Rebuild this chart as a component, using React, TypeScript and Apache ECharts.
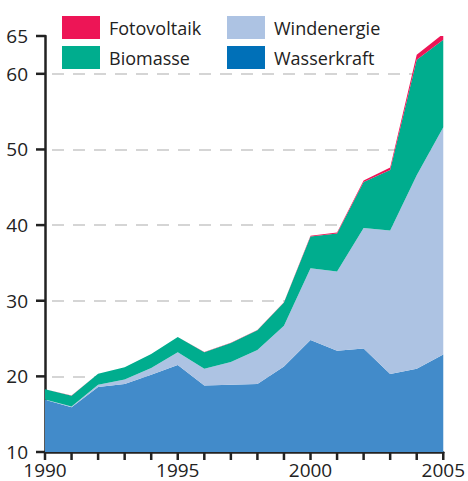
import React, { useEffect, useRef } from "react";
import * as echarts from "echarts";

const years = ["1990","1991","1992","1993","1994","1995","1996","1997","1998","1999","2000","2001","2002","2003","2004","2005"];
const wasserkraft = [16.9, 15.9, 18.6, 19.0, 20.2, 21.5, 18.8, 18.9, 19.0, 21.3, 24.8, 23.4, 23.7, 20.3, 21.0, 22.9];
const windenergie = [0.05, 0.1, 0.3, 0.6, 0.9, 1.7, 2.2, 3.0, 4.5, 5.4, 9.5, 10.45, 15.9, 19.0, 25.6, 30.05];
const biomasse = [1.35, 1.45, 1.45, 1.6, 1.85, 2.0, 2.2, 2.5, 2.6, 3.05, 4.2, 5.05, 6.1, 8.0, 15.25, 11.55];
const fotovoltaik = [0.01, 0.01, 0.01, 0.01, 0.02, 0.02, 0.02, 0.03, 0.04, 0.05, 0.08, 0.12, 0.2, 0.3, 0.66, 0.8];
const yTicks = [10, 20, 30, 40, 50, 60, 65];

const FONT = "'Open Sans', 'Noto Sans', sans-serif";
const TEXT = "#222222";
const GRID = "#c8c8c8";

export default function App() {
  const ref = useRef<HTMLDivElement>(null);
  useEffect(() => {
    if (!ref.current) return;
    const chart = echarts.init(ref.current, undefined, { renderer: "svg" });
    const mk = (name: string, data: number[], color: string) => ({
      name,
      type: "line",
      stack: "total",
      data,
      symbol: "none",
      lineStyle: { width: 0 },
      areaStyle: { color, opacity: 1 },
      itemStyle: { color },
    });
    const legendText = { fontSize: 18, color: TEXT, fontFamily: FONT, padding: [0, 0, 0, 4] };
    chart.setOption({
      animation: false,
      legend: [
        {
          left: 57,
          top: 11,
          orient: "vertical",
          itemWidth: 38,
          itemHeight: 23,
          itemGap: 7,
          icon: "rect",
          selectedMode: false,
          textStyle: legendText,
          data: [
            { name: "Fotovoltaik", itemStyle: { color: "#ed1556" } },
            { name: "Biomasse", itemStyle: { color: "#00ad8e" } },
          ],
        },
        {
          left: 222,
          top: 11,
          orient: "vertical",
          itemWidth: 38,
          itemHeight: 23,
          itemGap: 7,
          icon: "rect",
          selectedMode: false,
          textStyle: legendText,
          data: [
            { name: "Windenergie", itemStyle: { color: "#adc3e3" } },
            { name: "Wasserkraft", itemStyle: { color: "#0070b8" } },
          ],
        },
      ],
      grid: { left: 45, right: 21, top: 36, bottom: 29 },
      xAxis: {
        type: "category",
        data: years,
        boundaryGap: false,
        axisLine: { show: true, lineStyle: { color: TEXT, width: 2.5 } },
        axisTick: { show: false },
        axisLabel: { interval: 4, fontSize: 19, color: TEXT, margin: 8, fontFamily: FONT },
        splitLine: { show: false },
      },
      yAxis: {
        type: "value",
        min: 10,
        max: 65,
        interval: 10,
        axisLine: { show: true, lineStyle: { color: TEXT, width: 2.5 } },
        axisTick: { show: false },
        axisLabel: { fontSize: 19, color: TEXT, margin: 17, fontFamily: FONT },
        splitLine: {
          show: true,
          lineStyle: {
            color: [GRID, GRID, GRID, GRID, GRID, GRID, "rgba(0,0,0,0)"],
            width: 1.5,
            type: [12, 9],
            dashOffset: 14,
          },
        },
      },
      series: [
        mk("Wasserkraft", wasserkraft, "#428bca"),
        mk("Windenergie", windenergie, "#adc3e3"),
        mk("Biomasse", biomasse, "#00ad8e"),
        mk("Fotovoltaik", fotovoltaik, "#ed1556"),
        {
          name: "xticks",
          type: "custom",
          silent: true,
          clip: false,
          z: 20,
          data: years.map((y) => [y, 10]),
          renderItem: (params: any, api: any) => {
            const p = api.coord([api.value(0), api.value(1)]);
            return {
              type: "line",
              shape: { x1: p[0], y1: p[1], x2: p[0], y2: p[1] + 8 },
              style: { stroke: TEXT, lineWidth: 2.5 },
            };
          },
        },
        {
          name: "yticks",
          type: "custom",
          silent: true,
          clip: false,
          z: 20,
          data: yTicks.map((v) => [years[0], v]),
          renderItem: (params: any, api: any) => {
            const p = api.coord([api.value(0), api.value(1)]);
            return {
              type: "line",
              shape: { x1: p[0] - 9, y1: p[1], x2: p[0], y2: p[1] },
              style: { stroke: TEXT, lineWidth: 2.5 },
            };
          },
        },
      ],
    });
    return () => chart.dispose();
  }, []);
  return <div ref={ref} style={{ width: 468, height: 481, position: "absolute", left: 0, top: 0 }} />;
}
